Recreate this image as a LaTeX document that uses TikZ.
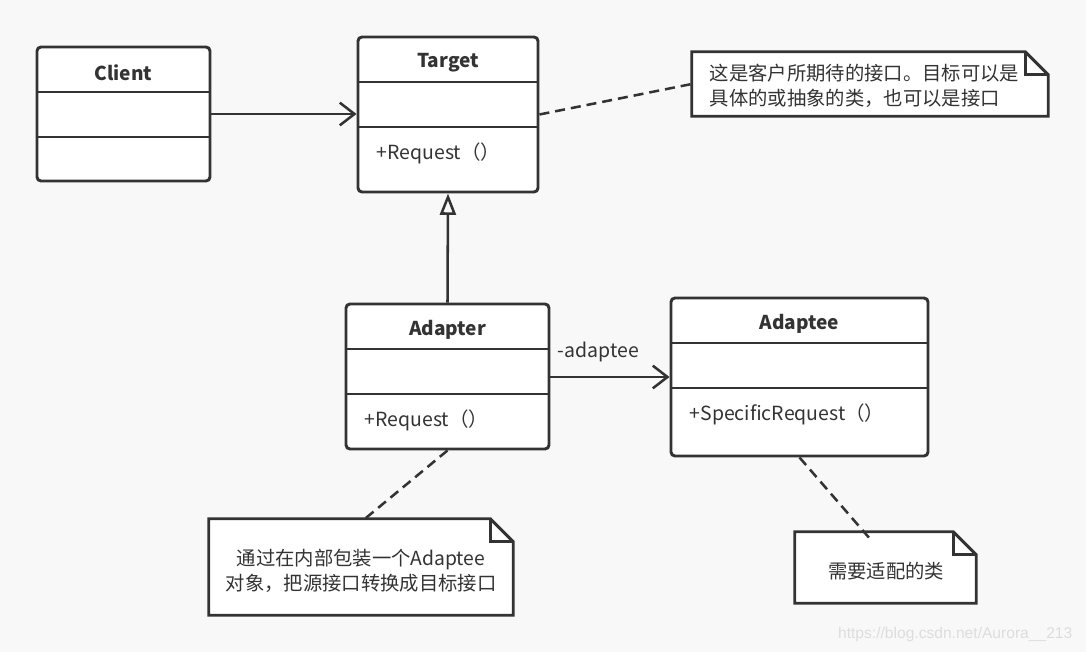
\documentclass[tikz,border=0pt]{standalone}
\usepackage{fontspec}
\setmainfont{Noto Sans CJK SC}
\newfontfamily\wmfont{Liberation Sans}
\usetikzlibrary{arrows.meta,fit,calc}
\definecolor{ink}{HTML}{333333}
\definecolor{bg}{HTML}{F8F8F8}
\definecolor{wm}{HTML}{DDDDDD}
\tikzset{
  umlbox/.style={draw=ink, fill=white, line width=2.2pt, rounded corners=3pt, inner sep=0pt},
  notebox/.style={inner sep=0pt},
  noteline/.style={draw=ink, fill=white, line width=2.2pt},
  sep/.style={draw=ink, line width=2.2pt},
  ttl/.style={font=\fontsize{14.3pt}{17pt}\selectfont\bfseries, text=ink},
  body/.style={font=\fontsize{14.6pt}{17pt}\selectfont, text=ink},
  ntxt/.style={font=\fontsize{14.5pt}{18.5pt}\selectfont, text=ink},
  conn/.style={draw=ink, line width=1.9pt},
  dashconn/.style={draw=ink, line width=1.9pt, dash pattern=on 7.5pt off 4.5pt},
}
\begin{document}
\begin{tikzpicture}[x=0.75pt,y=-0.75pt]
\fill[bg] (0,0) rectangle (1086,652);
\useasboundingbox (0,0) rectangle (1086,652);

% Client
\node[umlbox, fit={(37,47) (210,181)}] (client) {};
\draw[sep] (client.west |- 0,92) -- (client.east |- 0,92);
\draw[sep] (client.west |- 0,137) -- (client.east |- 0,137);
\node[ttl] (clientT) at (123.5,72.5) {Client};

% Target
\node[umlbox, fit={(358,37) (538,192)}] (target) {};
\draw[sep] (target.west |- 0,82) -- (target.east |- 0,82);
\draw[sep] (target.west |- 0,127) -- (target.east |- 0,127);
\node[ttl] (targetT) at (448,62.5) {Target};
\node[body, anchor=west] (targetM) at (372,153.5) {+Request（）};

% Adapter
\node[umlbox, fit={(346,304) (549,449)}] (adapter) {};
\draw[sep] (adapter.west |- 0,349) -- (adapter.east |- 0,349);
\draw[sep] (adapter.west |- 0,394) -- (adapter.east |- 0,394);
\node[ttl] (adapterT) at (447.5,329.5) {Adapter};
\node[body, anchor=west] (adapterM) at (360,420.5) {+Request（）};

% Adaptee
\node[umlbox, fit={(671,298) (928,456)}] (adaptee) {};
\draw[sep] (adaptee.west |- 0,343) -- (adaptee.east |- 0,343);
\draw[sep] (adaptee.west |- 0,388) -- (adaptee.east |- 0,388);
\node[ttl] (adapteeT) at (799.5,323.5) {Adaptee};
\node[body, anchor=west] (adapteeM) at (685,414.5) {+SpecificRequest（）};

% Notes
\node[notebox, fit={(692,52) (1048,116)}] (note1) {};
\path[noteline] (note1.north west) -- ($(note1.north east)+(-23,0)$) -- ($(note1.north east)+(0,23)$) -- (note1.south east) -- (note1.south west) -- cycle;
\draw[sep] ($(note1.north east)+(-23,0)$) -- ($(note1.north east)+(-23,23)$) -- ($(note1.north east)+(0,23)$);
\node[ntxt, anchor=west, align=left] (note1T) at (705,86) {这是客户所期待的接口。目标可以是\\具体的或抽象的类，也可以是接口};

\node[notebox, fit={(209,519) (513,615)}] (note2) {};
\path[noteline] (note2.north west) -- ($(note2.north east)+(-23,0)$) -- ($(note2.north east)+(0,23)$) -- (note2.south east) -- (note2.south west) -- cycle;
\draw[sep] ($(note2.north east)+(-23,0)$) -- ($(note2.north east)+(-23,23)$) -- ($(note2.north east)+(0,23)$);
\node[ntxt, align=center] (note2T) at (361,571) {通过在内部包装一个Adaptee\\对象，把源接口转换成目标接口};

\node[notebox, fit={(795,532) (976,603)}] (note3) {};
\path[noteline] (note3.north west) -- ($(note3.north east)+(-23,0)$) -- ($(note3.north east)+(0,23)$) -- (note3.south east) -- (note3.south west) -- cycle;
\draw[sep] ($(note3.north east)+(-23,0)$) -- ($(note3.north east)+(-23,23)$) -- ($(note3.north east)+(0,23)$);
\node[ntxt] (note3T) at (886,571) {需要适配的类};
\coordinate (n3end) at (871,540);

% Connectors
\draw[conn, -{Straight Barb[length=11pt,width=17pt,line width=1.9pt]}] (client.east |- 0,114) -- (target.west |- 0,114);
\draw[conn, -{Triangle[open,length=16pt,width=12pt,line width=1.9pt]}] (adapter.north) -- (target.south);
\draw[conn, -{Straight Barb[length=11pt,width=17pt,line width=1.9pt]}] (adapter.east |- 0,377) -- (adaptee.west |- 0,377);
\node[body, anchor=west] (lbl) at (553,352) {-adaptee};
\draw[dashconn] (target.east) -- (note1.west);
\draw[dashconn] (adapter.south) -- ($(note2.north)+(4,0)$);
\draw[dashconn] (adaptee.south) -- (n3end);

% watermark
\node[font=\wmfont\fontsize{11.7pt}{13pt}\selectfont, text=wm, anchor=east] (wmark) at (1077,634) {https://blog.csdn.net/Aurora\_\_213};
\end{tikzpicture}
\end{document}
